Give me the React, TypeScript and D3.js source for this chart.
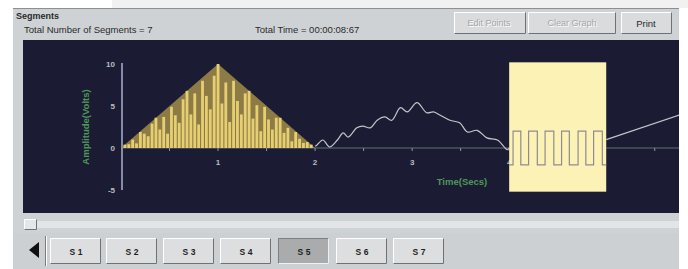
import React from "react";
import * as d3 from "d3";

// ---- data ----
const seg1Times = [0.04,0.08,0.12,0.16,0.2,0.24,0.28,0.32,0.36,0.4,0.44,0.48,0.52,0.56,0.6,0.64,0.68,0.72,0.76,0.8,0.84,0.88,0.92,0.96,1.0,1.04,1.08,1.12,1.16,1.2,1.24,1.28,1.32,1.36,1.4,1.44,1.48,1.52,1.56,1.6,1.64,1.68,1.72,1.76,1.8,1.84,1.88,1.92,1.96];
const seg1Values = [0.4,0.45,1.0,0.55,1.9,1.7,1.4,2.9,3.6,2.2,3.7,1.7,4.9,3.9,3.0,5.8,6.8,4.0,6.5,2.8,8.0,6.2,4.6,8.6,10,5.3,7.8,3.1,8.0,5.6,4.0,6.5,6.8,3.5,5.1,2.0,4.9,3.4,2.2,3.6,3.6,1.8,2.4,0.8,1.9,1.1,0.6,0.7,0.4];
const envTimes = [0.0, 1.0, 2.0];
const envValues = [0, 10, 0];

const wiggleTimes = [2.0,2.02,2.08,2.15,2.23,2.29,2.34,2.43,2.49,2.57,2.64,2.72,2.79,2.88,2.95,3.05,3.15,3.22,3.29,3.39,3.49,3.57,3.67,3.77,3.88,3.98,4.0];
const wiggleValues = [0.2,0.36,0.95,0.12,0.95,1.8,1.3,2.4,2.6,2.4,3.3,3.7,3.3,4.8,4.3,5.4,4.2,4.3,3.9,3.3,3.0,1.9,2.1,1.2,0.95,-0.2,0];

const squareTimes = [4.0,4.04,4.12,4.2,4.29,4.37,4.46,4.54,4.62,4.71,4.79,4.87,4.96,5.0];
const squareValues = [-2,2,-2,2,-2,2,-2,2,-2,2,-2,2,-2,-2];

const rampTimes = [5.0, 5.8];
const rampValues = [1.0, 4.1];

const selStart = 4.0;
const selEnd = 5.0;

const xMajorTicks = [1, 2, 3, 4];
const xMinorTicks = [0.5, 1.5, 2.5, 3.5, 4.5, 5.5];
const yTicks = [10, 5, 0, -5];
const segmentLabels = ["S 1", "S 2", "S 3", "S 4", "S 5", "S 6", "S 7"];
const selectedSegment = 4;

const FONT = "'Liberation Sans', Arial, sans-serif";

function Bevel({ x, y, w, h, pressed = false, fill = "#d9dbdc" }: any) {
  const light = pressed ? "#7c7e80" : "#ffffff";
  const dark = pressed ? "#f0f0f0" : "#6f7173";
  return (
    <g>
      <rect x={x} y={y} width={w} height={h} fill={fill} />
      <path d={`M${x + 0.5},${y + h - 0.5} L${x + 0.5},${y + 0.5} L${x + w - 0.5},${y + 0.5}`} stroke={light} fill="none" />
      <path d={`M${x + 0.5},${y + h - 0.5} L${x + w - 0.5},${y + h - 0.5} L${x + w - 0.5},${y + 0.5}`} stroke={dark} fill="none" />
    </g>
  );
}

export default function App() {
  const x = d3.scaleLinear().domain([0, 5.75]).range([121, 679]);
  const y = d3.scaleLinear().domain([-5, 10]).range([190, 64]);

  const plot = { x0: 23, y0: 40, x1: 679, y1: 213 };

  const line = d3.line<[number, number]>().x(d => x(d[0])).y(d => y(d[1]));
  const wiggle = d3.line<[number, number]>().x(d => x(d[0])).y(d => y(d[1])).curve(d3.curveCatmullRom);
  const step = d3.line<[number, number]>().x(d => x(d[0])).y(d => y(d[1])).curve(d3.curveStepAfter);

  const env = envTimes.map((t, i) => [t, envValues[i]] as [number, number]);
  const wig = wiggleTimes.map((t, i) => [t, wiggleValues[i]] as [number, number]);
  const sq = squareTimes.map((t, i) => [t, squareValues[i]] as [number, number]);
  const ramp = rampTimes.map((t, i) => [t, rampValues[i]] as [number, number]);

  const btnXs = [50, 106, 163, 220, 278, 336, 393];

  return (
    <svg width={688} height={269} style={{ position: "absolute", left: 0, top: 0, display: "block" }} fontFamily={FONT}>
      <rect width={688} height={269} fill="#ffffff" />
      <rect x={112} y={0} width={576} height={8} fill="#f1f1f1" />
      {/* window panel */}
      <rect x={13} y={8} width={666} height={261} fill="#cfd2d4" />
      <line x1={13} y1={8.5} x2={679} y2={8.5} stroke="#8d9093" />
      <text x={16} y={19} fontSize={9} fontWeight="bold" fill="#2a2a2a">Segments</text>
      <text x={24} y={33} fontSize={9.5} fill="#2a2a2a">Total Number of Segments = 7</text>
      <text x={255} y={33} fontSize={9.5} fill="#2a2a2a">Total Time = 00:00:08:67</text>
      <Bevel x={454} y={12} w={72} h={22} />
      <text x={490} y={27} fontSize={9} textAnchor="middle" fill="#ffffff">Edit Points</text>
      <text x={489} y={26} fontSize={9} textAnchor="middle" fill="#a4a7aa">Edit Points</text>
      <Bevel x={528} y={12} w={88} h={22} />
      <text x={573} y={27} fontSize={9} textAnchor="middle" fill="#ffffff">Clear Graph</text>
      <text x={572} y={26} fontSize={9} textAnchor="middle" fill="#a4a7aa">Clear Graph</text>
      <Bevel x={621} y={12} w={51} h={22} />
      <text x={646} y={27} fontSize={9.5} textAnchor="middle" fill="#2a2a2a">Print</text>

      {/* plot area */}
      <rect x={plot.x0} y={plot.y0} width={plot.x1 - plot.x0} height={plot.y1 - plot.y0} fill="#1b1c34" />
      <clipPath id="pc">
        <rect x={plot.x0} y={plot.y0} width={plot.x1 - plot.x0} height={plot.y1 - plot.y0} />
      </clipPath>
      <g clipPath="url(#pc)">
        {/* zero line and ticks */}
        <line x1={x(0)} x2={plot.x1} y1={y(0)} y2={y(0)} stroke="#5f6f70" strokeWidth={1.2} />
        {xMinorTicks.map(t => (
          <line key={"m" + t} x1={x(t)} x2={x(t)} y1={y(0)} y2={y(0) + 3} stroke="#8a9a9a" />
        ))}
        {xMajorTicks.map(t => (
          <g key={"M" + t}>
            <line x1={x(t)} x2={x(t)} y1={y(0)} y2={y(0) + 3} stroke="#8a9a9a" />
            <text x={x(t)} y={y(0) + 17} fontSize={8} fontWeight="bold" textAnchor="middle" fill="#b8bcc4">{t}</text>
          </g>
        ))}
        {/* y axis */}
        <line x1={x(0) + 1} x2={x(0) + 1} y1={y(10) - 1} y2={y(-5)} stroke="#aab0d0" strokeWidth={1.5} />
        {yTicks.map(v => (
          <text key={"y" + v} x={x(0) - 6} y={y(v) + 3} fontSize={8} fontWeight="bold" textAnchor="end" fill="#b8bcc4">{v}</text>
        ))}
        <text transform={`translate(${89},${127}) rotate(-90)`} fontSize={9.5} fontWeight="bold" textAnchor="middle" fill="#4e9858">Amplitude(Volts)</text>
        <text x={462} y={185} fontSize={9.5} fontWeight="bold" textAnchor="middle" fill="#4e9858">Time(Secs)</text>

        {/* segment 1: AM burst */}
        <path d={line(env) + "Z"} fill="#9a8648" opacity={0.9} />
        {seg1Times.map((t, i) => (
          <line key={"b" + i} x1={x(t)} x2={x(t)} y1={y(0)} y2={y(seg1Values[i])} stroke="#e6cf72" strokeWidth={2.8} />
        ))}
        {/* wiggle */}
        <path d={wiggle(wig) || ""} fill="none" stroke="#c4c4c8" strokeWidth={1.2} />
        {/* selected segment box */}
        <rect x={x(selStart)} y={y(10.2)} width={x(selEnd) - x(selStart)} height={y(-5.2) - y(10.2)} fill="#fdf2b6" />
        <path d={step(sq) || ""} fill="none" stroke="#8d8c90" strokeWidth={1.2} />
        {/* ramp */}
        <path d={line(ramp) || ""} fill="none" stroke="#c4c4c8" strokeWidth={1.2} />
      </g>

      {/* scroll bar */}
      <rect x={37} y={221} width={642} height={7} fill="#e2e4e5" />
      <Bevel x={24} y={219} w={13} h={11} fill="#e4e6e7" />
      {/* tab row */}
      <rect x={13} y={233} width={666} height={36} fill="#cdd0d2" />
      <path d={`M39,242 L39,258 L29,250 Z`} fill="#101010" />
      <line x1={45.5} x2={45.5} y1={236} y2={266} stroke="#7a7c7e" />
      <line x1={46.5} x2={46.5} y1={236} y2={266} stroke="#ffffff" />
      {segmentLabels.map((s, i) => (
        <g key={s}>
          <Bevel x={btnXs[i]} y={238} w={51} h={26} pressed={i === selectedSegment} fill={i === selectedSegment ? "#a9abac" : "#dcdedf"} />
          <text x={btnXs[i] + 26} y={255} fontSize={8.5} fontWeight="bold" textAnchor="middle" fill="#1e1e1e">{s}</text>
        </g>
      ))}
    </svg>
  );
}
